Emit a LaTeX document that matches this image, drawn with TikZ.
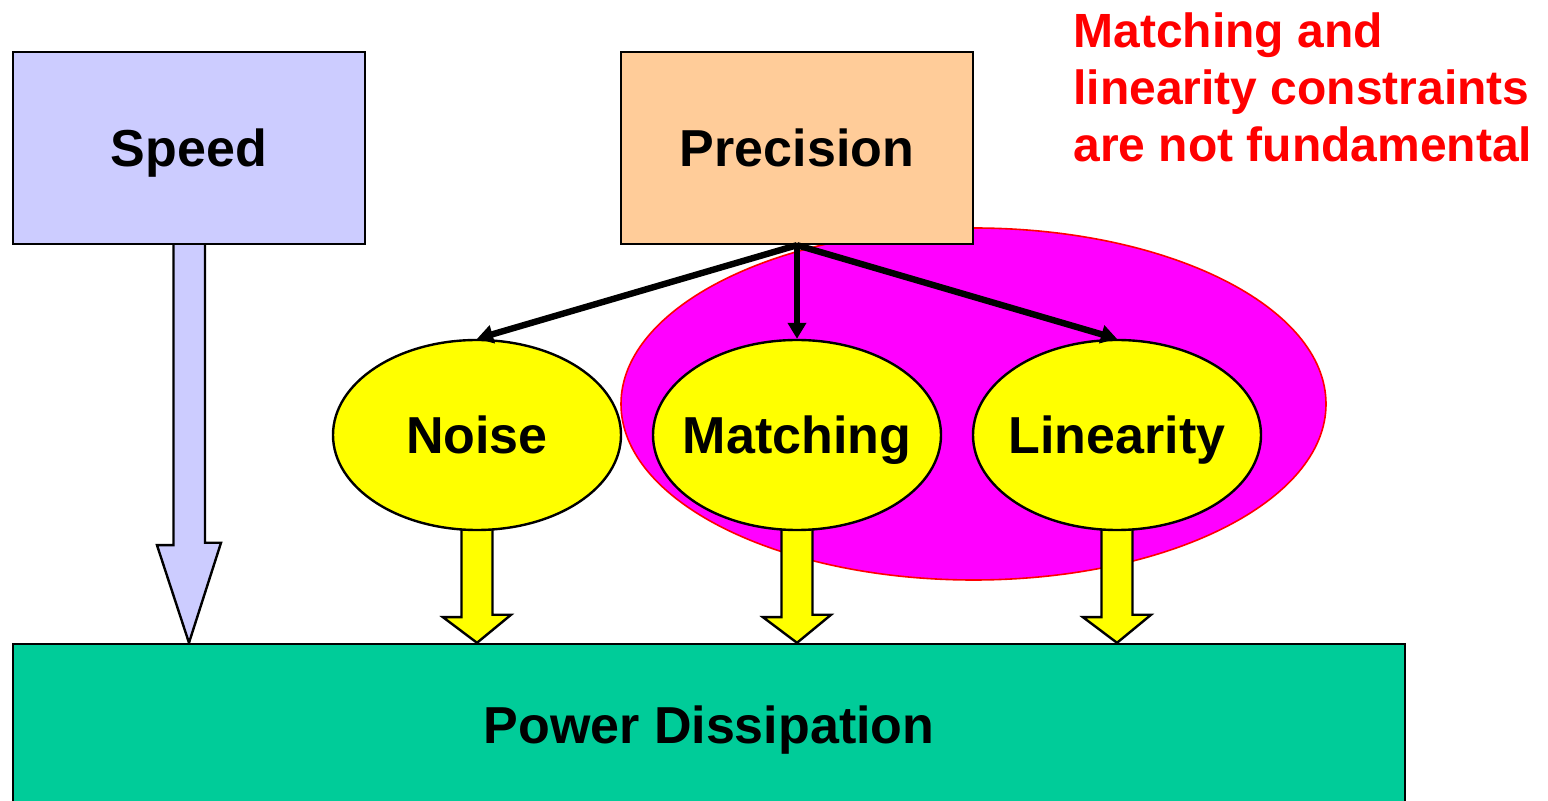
\documentclass[tikz,border=0pt]{standalone}
\usepackage{fontspec}
\setmainfont{Liberation Sans}
\usetikzlibrary{arrows.meta,shapes.geometric,calc}
\pgfdeclarelayer{bg}
\pgfsetlayers{bg,main}
\definecolor{lav}{HTML}{CCCCFF}
\definecolor{peach}{HTML}{FFCC99}
\definecolor{mag}{HTML}{FF00FF}
\definecolor{yel}{HTML}{FFFF00}
\definecolor{grn}{HTML}{00CC99}
\definecolor{redtxt}{HTML}{FF0000}
\tikzset{
  lbl/.style={font=\fontsize{26}{30}\selectfont\bfseries, text height=18.6pt, text depth=0pt, inner sep=0pt},
  box/.style={draw=black, line width=1.2pt, rectangle, minimum width=176pt, minimum height=96pt, lbl},
  oval/.style={draw=black, line width=1.2pt, ellipse, fill=yel, minimum width=144pt, minimum height=95pt, inner sep=0pt},
  link/.style={line width=3.2pt, -{Triangle[length=8pt,width=9pt]}},
  yarrow/.style={draw=black, line width=1.2pt, fill=yel, line join=miter},
  sarrow/.style={draw=black, line width=1.2pt, fill=lav, line join=miter}
}
\begin{document}
\begin{tikzpicture}[x=0.5pt,y=-0.5pt]
\useasboundingbox (0,0) rectangle (1548,801);
\clip (0,0) rectangle (1548,801);
% magenta group ellipse
\begin{pgfonlayer}{bg}
\node[ellipse, draw=red, line width=0.8pt, fill=mag, minimum width=352.5pt, minimum height=176pt, inner sep=0pt] (group) at (973.5,404) {};
\end{pgfonlayer}
% boxes
\node[box, fill=lav] (speed) at (189,148) {Speed};
\node[box, fill=peach] (prec) at (797,148) {Precision};
\node[box, fill=grn, minimum width=696pt, minimum height=80.5pt] (power) at (709,724.5) {Power Dissipation};
% ellipses
\node[oval] (noise) at (477,435) {};
\node[oval] (match) at (797,435) {};
\node[oval] (lin) at (1117,435) {};
\node[lbl] (noiset) at (noise.center) {Noise};
\node[lbl] (matcht) at (match.center) {Matching};
\node[lbl] (lint) at (lin.center) {Linearity};
% precision links
\draw[link] (prec.south) -- (noise.north);
\draw[link] (prec.south) -- (match.north);
\draw[link] (prec.south) -- (lin.north);
\begin{pgfonlayer}{bg}
% speed block arrow
\draw[sarrow] (speed.south) ++(-15.5,-2) -- ++(0,302) -- ++(-16.5,0) -- (speed.south |- power.north) -- ++(32,-100) -- ++(-16,0) -- ++(0,-302) -- cycle;
% yellow block arrows
\foreach \n in {noise,match,lin}{
  \draw[yarrow] (\n.south) ++(-15.5,-2) -- ++(0,88) -- ++(-18.5,0) -- (\n.south |- power.north) -- ++(34,-28) -- ++(-18.5,0) -- ++(0,-88) -- cycle;
}
\end{pgfonlayer}
% red note
\node[anchor=north west, align=left, inner sep=0pt, text=redtxt, font=\fontsize{24}{28.5}\selectfont\bfseries] (note) at (1073,12) {Matching and\\linearity constraints\\are not fundamental};
\end{tikzpicture}
\end{document}
